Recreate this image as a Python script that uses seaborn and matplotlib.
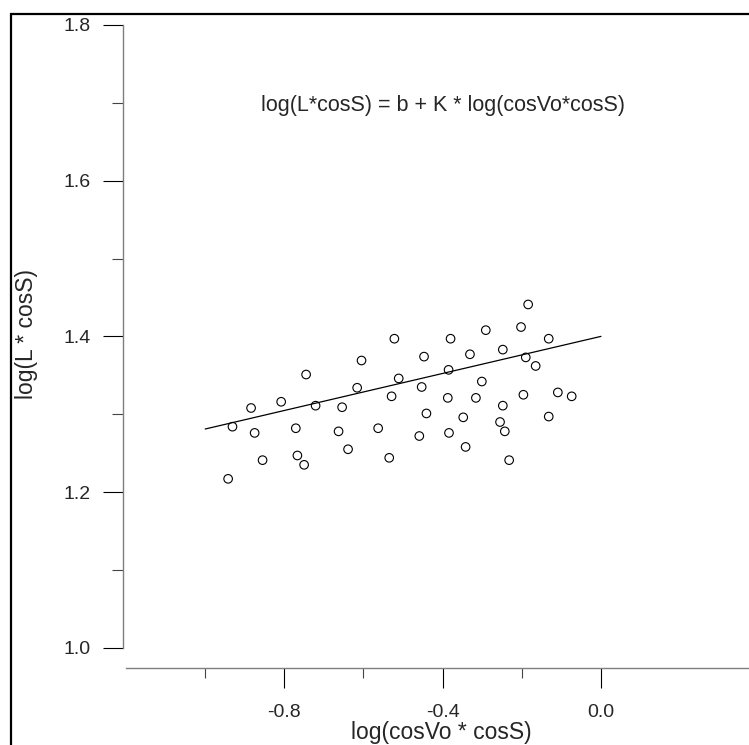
import pandas as pd
import seaborn as sns
import matplotlib.pyplot as plt
from matplotlib.patches import Rectangle

# data
log_cos = [-0.931, -0.884, -0.875, -0.855, -0.942, -0.808, -0.745, -0.721, -0.771, -0.767,
           -0.750, -0.654, -0.663, -0.639, -0.605, -0.616, -0.563, -0.535, -0.522, -0.511,
           -0.529, -0.447, -0.453, -0.441, -0.459, -0.380, -0.385, -0.387, -0.384, -0.348,
           -0.342, -0.331, -0.301, -0.316, -0.291, -0.248, -0.248, -0.255, -0.243, -0.232,
           -0.202, -0.184, -0.190, -0.196, -0.165, -0.132, -0.132, -0.109, -0.074]
log_L = [1.284, 1.308, 1.276, 1.241, 1.217, 1.316, 1.351, 1.311, 1.282, 1.247,
         1.235, 1.309, 1.278, 1.255, 1.369, 1.334, 1.282, 1.244, 1.397, 1.346,
         1.323, 1.374, 1.335, 1.301, 1.272, 1.397, 1.357, 1.321, 1.276, 1.296,
         1.258, 1.377, 1.342, 1.321, 1.408, 1.383, 1.311, 1.290, 1.278, 1.241,
         1.412, 1.441, 1.373, 1.325, 1.362, 1.397, 1.297, 1.328, 1.323]
fit_x = [-1.0, 0.0]
fit_y = [1.281, 1.400]

x_major = [-0.8, -0.4, 0.0]
x_minor = [-1.0, -0.6, -0.2]
y_major = [1.0, 1.2, 1.4, 1.6, 1.8]
y_minor = [1.1, 1.3, 1.5, 1.7]

df = pd.DataFrame({'x': log_cos, 'y': log_L})
fit = pd.DataFrame({'x': fit_x, 'y': fit_y})

sns.set_style('white')
plt.rcParams['font.family'] = ['Liberation Sans', 'DejaVu Sans']

fig = plt.figure(figsize=(7.49, 7.45), dpi=100)
ax = fig.add_axes([123 / 749, 77 / 745, 636.3 / 749, 643 / 745])

sns.scatterplot(data=df, x='x', y='y', marker='o', s=38, facecolor='none',
                edgecolor='black', linewidth=0.8, ax=ax)
sns.lineplot(data=fit, x='x', y='y', color='black', linewidth=0.9, ax=ax)

ax.set_xlim(-1.2076, 0.4)
ax.set_ylim(0.974, 1.8)

for s in ['top', 'right']:
    ax.spines[s].set_visible(False)
for s in ['left', 'bottom']:
    ax.spines[s].set_color('#7f7f7f')
    ax.spines[s].set_linewidth(1.0)
ax.spines['left'].set_bounds(1.0, 1.8)
ax.spines['bottom'].set_bounds(-1.2, 0.4)

ax.set_xticks(x_major)
ax.set_xticks(x_minor, minor=True)
ax.set_yticks(y_major)
ax.set_yticks(y_minor, minor=True)
ax.set_xticklabels(['-0.8', '-0.4', '0.0'])
ax.set_yticklabels(['1.0', '1.2', '1.4', '1.6', '1.8'])
ax.tick_params(axis='both', which='major', direction='out', length=14.4, width=0.8,
               color='black', labelsize=14, pad=9)
ax.tick_params(axis='y', which='minor', direction='out', length=8, width=0.8, color='#444444')
ax.tick_params(axis='x', which='minor', direction='out', length=7.2, width=0.8, color='#444444')
ax.tick_params(axis='x', which='major', pad=11.5)
ax.tick_params(left=True, bottom=True)
ax.tick_params(which='minor', left=True, bottom=True)

ax.set_xlabel('log(cosVo * cosS)', fontsize=16.5)
ax.xaxis.set_label_coords(0.5, -0.082)
ax.set_ylabel('log(L * cosS)', fontsize=16.5, va='center')
ax.yaxis.set_label_coords(-0.152, 0.52)

ax.text(-0.4, 1.697, 'log(L*cosS) = b + K * log(cosVo*cosS)', fontsize=15.5,
        ha='center', va='center')

# frame around the picture (only top and left edges visible)
fig.add_artist(Rectangle((11 / 749, -0.1), 1.2, 0.1 + (1 - 14 / 745), fill=False,
                         edgecolor='black', linewidth=1.6, transform=fig.transFigure))

fig.savefig('out.png', dpi=100)
